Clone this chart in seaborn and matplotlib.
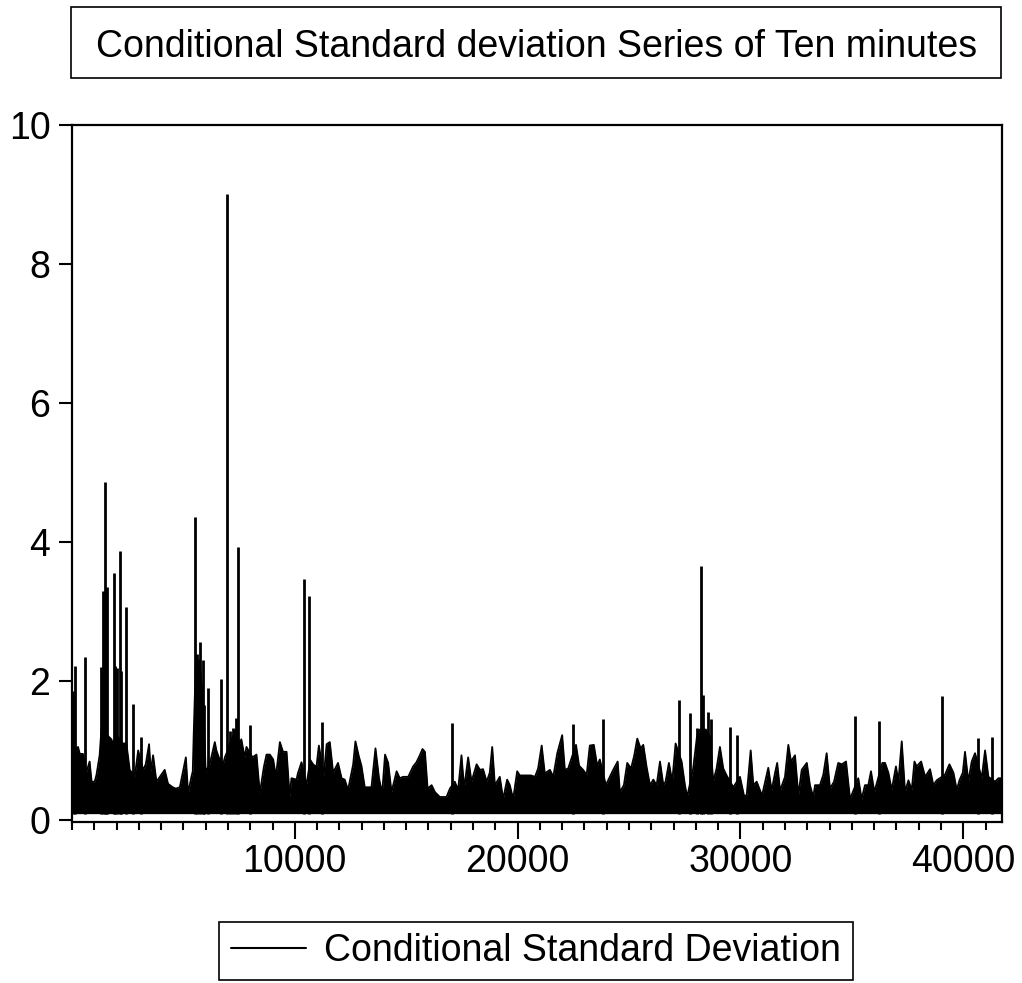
import numpy as np
import pandas as pd
import matplotlib
matplotlib.use("Agg")
import matplotlib.pyplot as plt
from matplotlib.ticker import MultipleLocator, FixedLocator
from matplotlib.patches import Rectangle
import seaborn as sns

# ---------------- data ----------------
title = "Conditional Standard deviation Series of Ten minutes"
series_label = "Conditional Standard Deviation"

floor_value = 0.09          # lower edge of the dense band
n_obs = 41740               # last observation

# envelope of the dense band (observation, value)
body_obs = [10, 270, 350, 490, 650, 790, 880, 1020, 1100, 1240, 1320, 1770, 1830, 2050, 2280,
            2440, 2590, 2820, 2970, 3190, 3310, 3460, 3530, 3640, 3790, 3940, 4160, 4310, 4520,
            4660, 4840, 5110, 5210, 5360, 5420, 5460, 5550, 5730, 5890, 6000, 6180, 6410, 6480,
            6590, 6780, 6860, 6990, 7080, 7220, 7350, 7530, 7600, 7750, 7830, 8100, 8280, 8430,
            8610, 8730, 8880, 9030, 9150, 9330, 9470, 9630, 9770, 9850, 10080,
            10130, 10300, 10520, 10700, 10820, 10970, 11080, 11300, 11430, 11570, 11720, 11940,
            12100, 12240, 12390, 12620, 12720, 12870, 12990, 13140, 13440, 13620, 13780, 13920,
            14050, 14190, 14340, 14570, 14710, 14860, 15090, 15310, 15460, 15610, 15730, 15840,
            15960, 16140, 16290, 16510, 16810, 16960, 17180, 17330, 17480, 17600, 17780, 17930,
            18160, 18310, 18450, 18610, 18750, 18860, 18980, 19200, 19350, 19530, 19650, 19800,
            19980, 20100, 20420,
            20600, 20780, 20920, 21080, 21220, 21450, 21600, 21780, 22000, 22120, 22270, 22620,
            22760, 22940, 23100, 23240, 23420, 23570, 23690, 23960, 24140, 24290, 24490, 24590,
            24770, 24920, 25090, 25230, 25370, 25520, 25640, 25790, 25940, 26090, 26240, 26390,
            26540, 26640, 26790, 26940, 27090, 27360, 27510, 27610, 27880, 28050, 28180, 28320,
            28450, 28630, 28780, 28930, 29080, 29230, 29380, 29680, 29980, 30160, 30280, 30460,
            30580, 30730,
            30970, 31250, 31400, 31550, 31650, 31780, 32000, 32150, 32270, 32450, 32600, 32750,
            32980, 33120, 33270, 33350, 33570, 33720, 33870, 34020, 34200, 34390, 34550, 34740,
            34920, 35290, 35440, 35590, 35740, 35860, 36010, 36370, 36490, 36640, 36790, 36980,
            37090, 37240, 37390, 37540, 37690, 37810, 37910, 38110, 38290, 38510, 38660, 38810,
            39180, 39380, 39560, 39710, 39830, 39980, 40080, 40230, 40380, 40530, 40830, 40980,
            41130, 41430, 41580, 41700]
body_val = [0.95, 1.05, 0.95, 0.95, 0.69, 0.84, 0.55, 0.55, 0.65, 0.93, 1.30, 1.16, 1.10, 1.20, 1.10,
            1.10, 0.72, 0.63, 1.00, 0.72, 0.80, 1.09, 0.70, 0.93, 0.55, 0.62, 0.72, 0.52, 0.47,
            0.45, 0.47, 0.90, 0.38, 0.62, 0.70, 1.20, 2.20, 2.30, 1.66, 0.70, 0.80, 1.12, 1.00,
            0.90, 0.80, 0.90, 1.00, 1.10, 1.20, 1.30, 1.10, 1.16, 0.90, 1.05, 0.90, 0.94, 0.38,
            0.76, 0.94, 0.94, 0.87, 0.62, 1.12, 0.98, 0.98, 0.33, 0.60, 0.58,
            0.66, 0.83, 0.50, 0.86, 0.80, 0.76, 1.07, 0.64, 1.09, 1.12, 0.68, 0.82,
            0.60, 0.58, 0.43, 0.80, 1.13, 0.92, 0.78, 0.47, 0.47, 1.03, 0.60, 0.38,
            0.94, 0.82, 0.40, 0.70, 0.60, 0.62, 0.62, 0.77, 0.83, 0.93, 1.02, 0.98,
            0.45, 0.50, 0.40, 0.33, 0.33, 0.45, 0.55, 0.43, 0.93, 0.45, 0.90, 0.55,
            0.80, 0.72, 0.73, 0.55, 0.68, 1.05, 0.50, 0.62, 0.30, 0.58, 0.50, 0.30,
            0.70, 0.64, 0.64,
            0.64, 0.62, 0.74, 1.07, 0.67, 0.72, 0.62, 0.96, 1.22, 0.72, 0.74, 1.08,
            0.78, 0.72, 0.65, 1.07, 1.08, 0.78, 0.87, 0.50, 0.62, 0.72, 0.84, 0.40,
            0.50, 0.82, 0.74, 0.92, 1.17, 1.03, 1.08, 0.76, 0.50, 0.58, 0.50, 0.84,
            0.50, 0.55, 0.82, 0.55, 1.10, 0.84, 0.50, 0.33, 0.74, 1.20, 1.30, 1.30,
            1.30, 1.20, 0.55, 0.74, 1.05, 0.74, 0.64, 0.47, 0.62, 0.35, 0.35, 1.00,
            0.50, 0.55,
            0.35, 0.75, 0.42, 0.67, 0.82, 0.42, 0.62, 1.08, 0.84, 0.93, 0.35, 0.72,
            0.82, 0.50, 0.33, 0.50, 0.50, 0.65, 0.96, 0.45, 0.55, 0.82, 0.80, 0.84,
            0.30, 0.60, 0.30, 0.50, 0.50, 0.70, 0.40, 0.82, 0.82, 0.68, 0.43, 0.77,
            0.55, 1.13, 0.40, 0.57, 0.43, 0.84, 0.77, 0.84, 0.62, 0.73, 0.50, 0.57,
            0.65, 0.80, 0.68, 0.43, 0.57, 0.68, 0.98, 0.55, 0.84, 0.96, 0.60, 1.00,
            0.62, 0.55, 0.60, 0.60]

# isolated tall spikes (observation, value)
spike_obs = [45, 121, 570, 1289, 1400, 1468, 1520, 1558, 1872, 1940, 2029, 2142, 2218, 2411, 2725,
             3085, 5509, 5599, 5734, 5868, 5913, 6093, 6677, 6946, 7080, 7215, 7350, 7440, 7979,
             10403, 10627, 11211, 17049, 22481, 23829, 27241, 27735, 28049, 28228, 28318, 28543,
             28678, 29531, 29845, 35143, 36220, 39049, 40666, 41294]
spike_val = [1.86, 2.22, 2.34, 2.20, 3.30, 4.86, 3.30, 3.35, 3.55, 2.22, 2.18, 3.87, 2.15, 3.06, 1.67,
             1.19, 4.36, 2.39, 2.56, 2.30, 1.66, 1.90, 2.03, 9.00, 1.28, 1.32, 1.46, 3.93, 1.36,
             3.47, 3.22, 1.41, 1.39, 1.38, 1.45, 1.72, 1.54, 1.32, 3.65, 1.80, 1.56,
             1.45, 1.33, 1.22, 1.50, 1.43, 1.78, 1.18, 1.20]

y_ticks = [0, 2, 4, 6, 8, 10]
x_major = [10000, 20000, 30000, 40000]
x_minor_step = 1000

# ---------------- drawing ----------------
sns.set_style("ticks")
plt.rcParams["font.family"] = ["Liberation Sans", "DejaVu Sans"]
plt.rcParams["text.color"] = "black"
plt.rcParams["xtick.color"] = "black"
plt.rcParams["ytick.color"] = "black"
plt.rcParams["axes.labelcolor"] = "black"

FS = 27

fig = plt.figure(figsize=(10.22, 9.83), dpi=100)
ax = fig.add_axes([72 / 1022, 1 - 822 / 983, 930 / 1022, 697 / 983])

df = pd.DataFrame({"obs": body_obs, "value": body_val})
ax.fill_between(df["obs"], floor_value, df["value"], color="black", lw=0)
sns.lineplot(data=df, x="obs", y="value", ax=ax, color="black", lw=1.3,
             estimator=None, sort=False, label=series_label)
ax.vlines(spike_obs, floor_value, spike_val, color="black", lw=2.0)

ax.set_xlim(0, n_obs)
ax.set_ylim(-0.03, 10)
ax.set_yticks(y_ticks)
ax.xaxis.set_major_locator(FixedLocator(x_major))
ax.xaxis.set_minor_locator(MultipleLocator(x_minor_step))
ax.set_xlabel("")
ax.set_ylabel("")

for s in ax.spines.values():
    s.set_visible(True)
    s.set_linewidth(1.6)
    s.set_color("black")

ax.tick_params(axis="y", which="major", length=9.5, width=1.5, direction="out",
               labelsize=FS, pad=6, colors="black")
ax.tick_params(axis="x", which="major", length=12.5, width=1.5, direction="out",
               labelsize=FS, pad=3, colors="black")
ax.tick_params(axis="x", which="minor", length=6, width=1.5, direction="out")
ax.grid(False)

# title in a box
fig.patches.append(Rectangle((71 / 1022, 1 - 78 / 983), 930 / 1022, 71 / 983,
                             transform=fig.transFigure, fill=False, ec="black", lw=1.2))
fig.text(536.5 / 1022, 1 - 57 / 983, title, ha="center", va="baseline", fontsize=FS)

leg = ax.legend(loc="center", bbox_to_anchor=(536 / 1022, 1 - 951 / 983), bbox_transform=fig.transFigure,
                frameon=True, fancybox=False, edgecolor="black", framealpha=1, fontsize=FS,
                handlelength=2.0, handletextpad=0.5, borderpad=0.3, borderaxespad=0)
leg.get_frame().set_linewidth(1.2)
for ln in leg.get_lines():
    ln.set_linewidth(1.5)

fig.savefig("out.png", dpi=100, facecolor="white")
